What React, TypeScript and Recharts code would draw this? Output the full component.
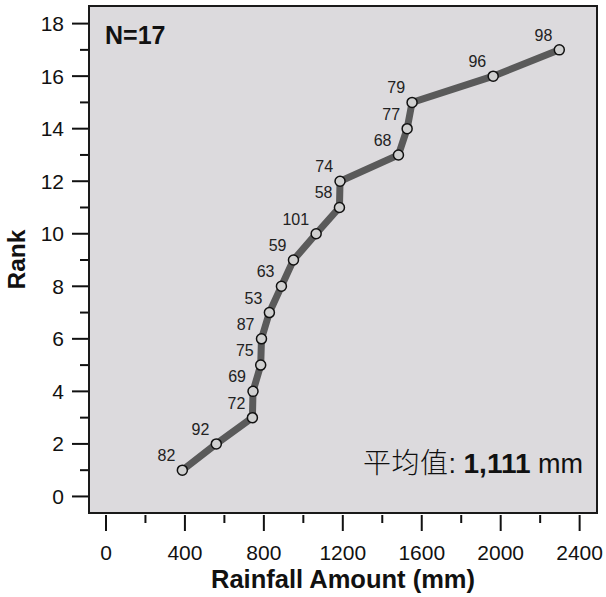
import React from 'react';
import { LineChart, Line, XAxis, YAxis, ReferenceArea, LabelList } from 'recharts';

const rainfall = [387, 559, 742, 745, 784, 788, 828, 889, 950, 1065, 1183, 1186, 1482, 1526, 1551, 1962, 2297];
const ranks = [1, 2, 3, 4, 5, 6, 7, 8, 9, 10, 11, 12, 13, 14, 15, 16, 17];
const pointLabels = ['82', '92', '72', '69', '75', '87', '53', '63', '59', '101', '58', '74', '68', '77', '79', '96', '98'];
const xTicks = [0, 200, 400, 600, 800, 1000, 1200, 1400, 1600, 1800, 2000, 2200, 2400];
const yTicks = [0, 1, 2, 3, 4, 5, 6, 7, 8, 9, 10, 11, 12, 13, 14, 15, 16, 17, 18];
const xDomain = [-86, 2488];
const yDomain = [-0.63, 18.67];

const data = rainfall.map((x, i) => ({ x, rank: ranks[i], label: pointLabels[i] }));

const FONT = '"Liberation Sans", Arial, sans-serif';

const XTick = (props: any) => {
  const { x, y, payload } = props;
  const major = payload.value % 400 === 0;
  return (
    <g>
      <line x1={x} x2={x} y1={y + 2} y2={y + (major ? 18 : 10)} stroke="#111" strokeWidth={2} />
      {major && (
        <text x={x} y={y + 47} textAnchor="middle" fontSize={21} fontFamily={FONT} fill="#111">
          {payload.value}
        </text>
      )}
    </g>
  );
};

const YTick = (props: any) => {
  const { x, y, payload } = props;
  const major = payload.value % 2 === 0;
  return (
    <g>
      <line x1={x - 1} x2={x - (major ? 17 : 9)} y1={y} y2={y} stroke="#111" strokeWidth={2} />
      {major && (
        <text x={x - 25} y={y + 7.5} textAnchor="end" fontSize={21} fontFamily={FONT} fill="#111">
          {payload.value}
        </text>
      )}
    </g>
  );
};

const PointLabel = (props: any) => {
  const { x, y, value } = props;
  return (
    <text x={x - 7} y={y - 9} textAnchor="end" fontSize={16} fontFamily={FONT} fill="#222">
      {value}
    </text>
  );
};

const XTitle = (props: any) => {
  const vb = props.viewBox;
  return (
    <text x={vb.x + vb.width / 2} y={588} textAnchor="middle" fontSize={25.5} fontWeight="bold" fontFamily={FONT} fill="#111">
      Rainfall Amount (mm)
    </text>
  );
};

const YTitle = (props: any) => {
  const vb = props.viewBox;
  const cy = vb.y + vb.height / 2;
  return (
    <text x={25} y={cy} transform={`rotate(-90, 25, ${cy})`} textAnchor="middle" fontSize={24.5} fontWeight="bold" fontFamily={FONT} fill="#111">
      Rank
    </text>
  );
};

const AreaLabel = (props: any) => {
  const vb = props.viewBox;
  return (
    <g>
      <text x={vb.x + 16} y={vb.y + 38} fontSize={25} fontWeight="bold" fontFamily={FONT} fill="#111">
        N=17
      </text>
      <text x={vb.x + vb.width - 14} y={vb.y + 466.5} textAnchor="end" fontSize={27} fontFamily={FONT} fill="#111">
        <tspan fontFamily='"Noto Sans CJK SC", sans-serif' fontSize={28} fontWeight={300} letterSpacing={0.5}>平均值</tspan>
        <tspan>: </tspan>
        <tspan fontWeight="bold" fontSize={28}>1,111</tspan>
        <tspan> mm</tspan>
      </text>
    </g>
  );
};

export default function App() {
  return (
    <div style={{ position: 'absolute', left: 0, top: 0, background: '#fff' }}>
      <LineChart width={606} height={597} data={data} margin={{ top: 6, right: 9, bottom: 0, left: 0 }}>
        <XAxis
          type="number"
          dataKey="x"
          domain={xDomain}
          ticks={xTicks}
          interval={0}
          allowDataOverflow
          tickSize={0}
          tickMargin={0}
          tickLine={false}
          axisLine={false}
          height={84}
          tick={<XTick />}
          label={<XTitle />}
        />
        <YAxis
          type="number"
          dataKey="rank"
          domain={yDomain}
          ticks={yTicks}
          interval={0}
          allowDataOverflow
          tickSize={0}
          tickMargin={0}
          tickLine={false}
          axisLine={false}
          width={89}
          tick={<YTick />}
          label={<YTitle />}
        />
        <ReferenceArea
          x1={xDomain[0]}
          x2={xDomain[1]}
          y1={yDomain[0]}
          y2={yDomain[1]}
          fill="#dcdadd"
          fillOpacity={1}
          stroke="#1a1a1a"
          strokeWidth={2}
          ifOverflow="visible"
          label={<AreaLabel />}
        />
        <Line
          dataKey="rank"
          stroke="#5a5a5a"
          strokeWidth={7}
          isAnimationActive={false}
          dot={{ r: 5, fill: '#d0d0d0', stroke: '#111', strokeWidth: 1.5, fillOpacity: 1 }}
          activeDot={false}
        >
          <LabelList dataKey="label" content={<PointLabel />} />
        </Line>
      </LineChart>
    </div>
  );
}
